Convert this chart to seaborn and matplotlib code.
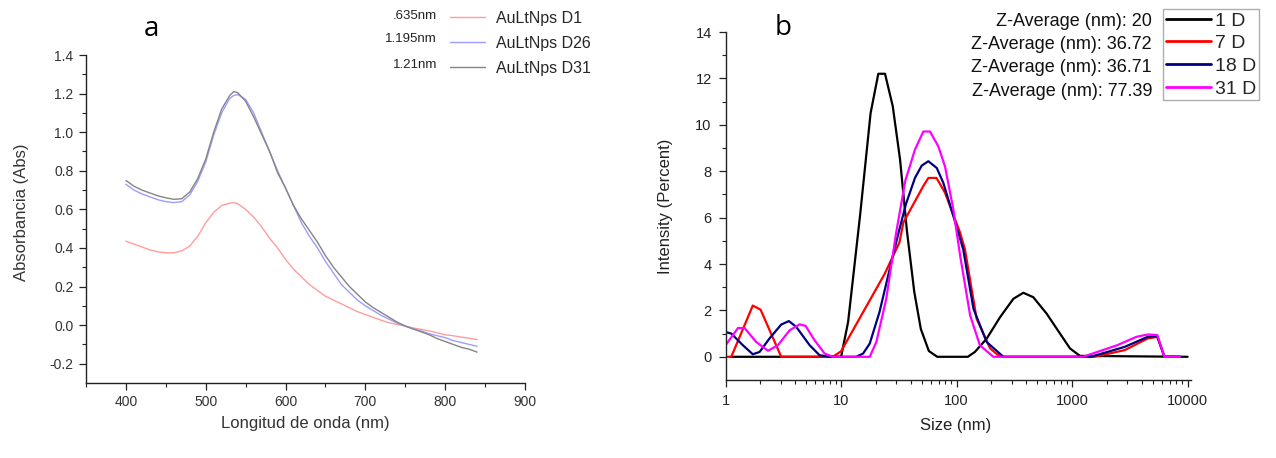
import numpy as np
import pandas as pd
import matplotlib
matplotlib.use("Agg")
import matplotlib.pyplot as plt
import seaborn as sns
from matplotlib.ticker import MultipleLocator, FixedLocator, FixedFormatter, NullFormatter, LogLocator

# ---------------- panel a: UV-Vis spectra ----------------
wl = [400, 410, 420, 430, 440, 450, 460, 470, 480, 490, 500, 510, 520, 530, 535, 540,
      550, 560, 570, 580, 590, 600, 610, 620, 630, 640, 650, 660, 670, 680, 690, 700,
      710, 720, 730, 740, 750, 760, 770, 780, 790, 800, 810, 820, 830, 840]
abs_d1 = [0.435, 0.42, 0.405, 0.39, 0.38, 0.375, 0.375, 0.385, 0.41, 0.46, 0.53, 0.585,
          0.62, 0.632, 0.635, 0.63, 0.60, 0.56, 0.51, 0.45, 0.40, 0.34, 0.29, 0.25, 0.21,
          0.18, 0.15, 0.13, 0.11, 0.09, 0.07, 0.055, 0.04, 0.025, 0.012, 0.003, -0.005,
          -0.015, -0.022, -0.03, -0.04, -0.05, -0.055, -0.062, -0.068, -0.075]
abs_d26 = [0.73, 0.70, 0.68, 0.665, 0.65, 0.64, 0.635, 0.64, 0.675, 0.745, 0.845, 0.985,
           1.10, 1.175, 1.19, 1.195, 1.17, 1.10, 1.00, 0.90, 0.80, 0.71, 0.62, 0.53, 0.46,
           0.40, 0.33, 0.27, 0.21, 0.17, 0.13, 0.10, 0.075, 0.05, 0.03, 0.01, -0.005,
           -0.02, -0.03, -0.045, -0.055, -0.065, -0.08, -0.09, -0.10, -0.11]
abs_d31 = [0.75, 0.72, 0.70, 0.685, 0.67, 0.66, 0.652, 0.655, 0.69, 0.76, 0.86, 1.00,
           1.12, 1.19, 1.21, 1.205, 1.16, 1.08, 0.99, 0.90, 0.79, 0.71, 0.62, 0.55, 0.49,
           0.43, 0.36, 0.30, 0.25, 0.20, 0.16, 0.12, 0.09, 0.065, 0.04, 0.015, -0.005,
           -0.02, -0.035, -0.05, -0.07, -0.085, -0.10, -0.115, -0.125, -0.14]
uv_labels = ["AuLtNps D1", "AuLtNps D26", "AuLtNps D31"]
uv_peaks = [".635nm", "1.195nm", "1.21nm"]
uv_colors = ["#ff9d9d", "#9d9dff", "#858585"]

# ---------------- panel b: DLS size distributions ----------------
size_1d = [1.1, 10, 11.5, 14.6, 18.0, 21.0, 24.0, 28.0, 32.4, 37.2, 43, 49, 57.5, 68,
           125, 144, 182, 238, 310, 378, 461, 602, 786, 959, 1170, 10000]
int_1d = [0, 0, 1.5, 6.1, 10.5, 12.2, 12.2, 10.8, 8.5, 5.4, 2.8, 1.2, 0.25, 0,
          0, 0.21, 0.78, 1.71, 2.5, 2.76, 2.57, 1.86, 1.0, 0.36, 0.04, 0]
size_7d = [1.0, 1.12, 1.72, 2.01, 3.03, 8.5, 10.0, 23.8, 32, 34.6, 51.5, 57, 67, 79.4,
           107, 118, 149, 195, 238, 1560, 2860, 4510, 5460, 6300, 8600]
int_7d = [0, 0, 2.21, 2.03, 0, 0, 0.24, 3.57, 4.93, 5.79, 7.36, 7.71, 7.71, 7.07,
          5.36, 4.64, 1.64, 0.36, 0, 0, 0.29, 0.79, 0.86, 0, 0]
size_18d = [1.0, 1.12, 1.41, 1.72, 1.97, 2.4, 3.03, 3.53, 4.09, 5.34, 6.5, 7.94, 13.5,
            15.5, 17.7, 21.5, 28.1, 32, 36.5, 43.6, 49.9, 56.9, 67.3, 76.7, 100, 114,
            140, 182, 254, 1450, 2860, 4510, 5460, 6300, 8600]
int_18d = [1.07, 1.0, 0.5, 0.11, 0.21, 0.79, 1.39, 1.54, 1.29, 0.5, 0.07, 0, 0,
           0.14, 0.57, 1.93, 4.36, 5.5, 6.6, 7.71, 8.24, 8.43, 8.14, 7.5, 5.6, 4.64,
           2.07, 0.64, 0, 0, 0.43, 0.86, 0.89, 0, 0]
size_31d = [1.0, 1.28, 1.46, 1.84, 2.33, 2.84, 3.58, 4.37, 4.93, 5.9, 7.2, 8.5, 17.7,
            20.2, 24.6, 30, 36, 43.6, 51.5, 58.8, 69.5, 79.4, 93.6, 107, 131, 159, 208,
            1244, 2460, 3600, 4510, 5460, 6300, 8600]
int_31d = [0.5, 1.24, 1.24, 0.64, 0.26, 0.5, 1.14, 1.4, 1.33, 0.71, 0.14, 0, 0,
           0.64, 2.5, 5.36, 7.6, 8.93, 9.71, 9.71, 9.07, 8.2, 6.36, 4.4, 1.78, 0.5, 0,
           0, 0.5, 0.86, 0.96, 0.94, 0, 0]
dls_labels = ["1 D", "7 D", "18 D", "31 D"]
zavg = ["Z-Average (nm): 20", "Z-Average (nm): 36.72",
        "Z-Average (nm): 36.71", "Z-Average (nm): 77.39"]
dls_colors = ["#000000", "#ff0000", "#000080", "#ff00ff"]

# long-form tables for seaborn
uv = pd.concat([pd.DataFrame({"wl": wl, "abs": v, "serie": lab})
                for v, lab in zip([abs_d1, abs_d26, abs_d31], uv_labels)], ignore_index=True)
dls = pd.concat([pd.DataFrame({"size": s, "int": v, "serie": lab})
                 for s, v, lab in zip([size_1d, size_7d, size_18d, size_31d],
                                      [int_1d, int_7d, int_18d, int_31d], dls_labels)],
                ignore_index=True)

sns.set_theme(style="ticks")
plt.rcParams["font.family"] = ["Liberation Sans", "DejaVu Sans"]

W, H = 1276, 458
fig = plt.figure(figsize=(W / 100, H / 100), dpi=100)
fig.patch.set_facecolor("white")


def box(l, t, r, b):
    # pixel box -> figure fraction
    return [l / W, 1 - b / H, (r - l) / W, (b - t) / H]


# ======== a ========
ax = fig.add_axes(box(86, 55, 525, 383))
sns.lineplot(data=uv, x="wl", y="abs", hue="serie", palette=uv_colors,
             estimator=None, sort=False, lw=1.0, ax=ax, legend=True)
ax.set_xlim(350, 900)
ax.set_ylim(-0.3, 1.4)
ax.xaxis.set_major_locator(MultipleLocator(100))
ax.xaxis.set_minor_locator(FixedLocator([350, 450, 550, 650, 750, 850]))
ax.yaxis.set_major_locator(FixedLocator(np.round(np.arange(-0.2, 1.41, 0.2), 1)))
ax.yaxis.set_minor_locator(FixedLocator(np.round(np.arange(-0.1, 1.4, 0.2), 1)))
ax.yaxis.set_major_formatter(plt.FuncFormatter(lambda v, p: f"{v:.1f}"))
sns.despine(ax=ax)
for s in ["left", "bottom"]:
    ax.spines[s].set_color("#222222")
    ax.spines[s].set_linewidth(1.0)
ax.tick_params(which="major", direction="out", length=5, width=0.9, colors="#222222",
               labelsize=10, labelcolor="#333333", pad=4)
ax.tick_params(which="minor", direction="out", length=3, width=0.8, colors="#222222")
ax.set_xlabel("Longitud de onda (nm)", fontsize=12, color="#333333")
ax.set_ylabel("Absorbancia (Abs)", fontsize=12, color="#333333")
ax.xaxis.set_label_coords(0.5, -0.10)
ax.yaxis.set_label_coords(-0.13, 0.52)
ax.legend(loc="upper left", bbox_to_anchor=(450 / W, 1 - 11 / H),
          bbox_transform=fig.transFigure, frameon=False, fontsize=11.5,
          handlelength=2.2, handletextpad=0.7, labelspacing=0.62, borderpad=0,
          borderaxespad=0)
for txt, y in zip(uv_peaks, [16, 39, 65]):
    fig.text(437 / W, 1 - y / H, txt, ha="right", va="center", fontsize=9.5, color="#222222")
fig.text(151 / W, 1 - 29 / H, "a", ha="center", va="center", fontsize=20,
         family=["Open Sans", "DejaVu Sans"], color="black")

# ======== b ========
bx = fig.add_axes(box(725.6, 32, 1191, 380))
bx.set_xscale("log")
sns.lineplot(data=dls, x="size", y="int", hue="serie", palette=dls_colors,
             estimator=None, sort=False, lw=1.6, ax=bx, legend=True)
bx.set_xlim(1, 10700)
bx.set_ylim(-1, 14)
bx.xaxis.set_major_locator(FixedLocator([1, 10, 100, 1000, 10000]))
bx.xaxis.set_major_formatter(FixedFormatter(["1", "10", "100", "1000", "10000"]))
bx.xaxis.set_minor_locator(LogLocator(base=10, subs=np.arange(2, 10), numticks=20))
bx.xaxis.set_minor_formatter(NullFormatter())
bx.yaxis.set_major_locator(FixedLocator(range(0, 15, 2)))
bx.yaxis.set_minor_locator(FixedLocator(range(1, 14, 2)))
sns.despine(ax=bx)
for s in ["left", "bottom"]:
    bx.spines[s].set_color("#222222")
    bx.spines[s].set_linewidth(1.0)
bx.tick_params(which="major", direction="out", length=5, width=0.9, colors="#222222",
               labelsize=10.5, labelcolor="#222222", pad=5)
bx.tick_params(which="minor", direction="out", length=3, width=0.8, colors="#222222")
bx.set_xlabel("Size (nm)", fontsize=12, color="#222222")
bx.set_ylabel("Intensity (Percent)", fontsize=12, color="#222222")
bx.xaxis.set_label_coords(0.495, -0.109)
bx.yaxis.set_label_coords(-0.113, 0.5)
leg = bx.legend(loc="upper right", bbox_to_anchor=(1259 / W, 1 - 9 / H),
                bbox_transform=fig.transFigure, frameon=True, fancybox=False,
                fontsize=14, handlelength=2.3, handletextpad=0.2, labelspacing=0.26,
                borderpad=0.15, borderaxespad=0)
leg.get_frame().set_edgecolor("#999999")
leg.get_frame().set_linewidth(1.0)
for line in leg.get_lines():
    line.set_linewidth(2.0)
for txt, y in zip(zavg, [21, 44.3, 67.7, 91]):
    fig.text(1152 / W, 1 - y / H, txt, ha="right", va="center", fontsize=13, color="#111111")
fig.text(783 / W, 1 - 28 / H, "b", ha="center", va="center", fontsize=20,
         family=["Open Sans", "DejaVu Sans"], color="black")

fig.savefig("out.png", dpi=100, facecolor="white")
